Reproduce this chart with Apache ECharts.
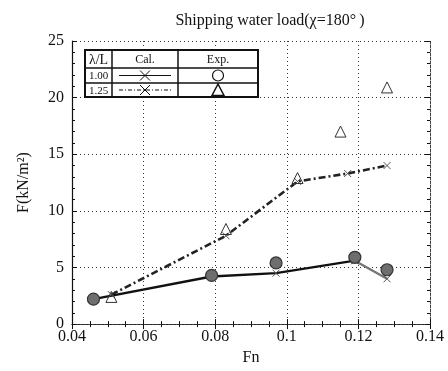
<!DOCTYPE html>
<html>
<head>
<meta charset="utf-8">
<script src="https://cdn.jsdelivr.net/npm/echarts@6/dist/echarts.min.js"></script>
<style>
html, body { margin: 0; padding: 0; background: #fff; }
#chart { width: 448px; height: 371px; }
</style>
</head>
<body>
<div id="chart"></div>
<script>
// 计算值 λ/L = 1.00
const cal100Fn = [0.046, 0.079, 0.097, 0.119, 0.128];
const cal100F = [2.2, 4.2, 4.5, 5.6, 4.0];
// 计算值 λ/L = 1.25
const cal125Fn = [0.051, 0.083, 0.103, 0.117, 0.128];
const cal125F = [2.6, 7.8, 12.6, 13.3, 14.0];
// 实验值
const exp100Fn = [0.046, 0.079, 0.097, 0.119, 0.128];
const exp100F = [2.2, 4.3, 5.4, 5.9, 4.8];
const exp125Fn = [0.051, 0.083, 0.103, 0.115, 0.128];
const exp125F = [2.4, 8.4, 12.9, 17.0, 20.9];

const xTicks = [0.04, 0.06, 0.08, 0.1, 0.12, 0.14];
const yTicks = [0, 5, 10, 15, 20, 25];
const legendRows = ['1.00', '1.25'];

const font = '"Liberation Serif", "DejaVu Serif", serif';
const crossPath = 'path://M0,0L10,10M10,0L0,10';

const zip = (xs, ys) => xs.map((x, i) => [x, ys[i]]);

const chart = echarts.init(document.getElementById('chart'));

// 图例表格
let tb = {left: 85, top: 50, right: 258, bottom: 97};
let cols = [85, 112, 178, 258], rows = [50, 68, 83, 97];
let graphic = [];
graphic.push({type: 'rect', shape: {x: tb.left, y: tb.top, width: tb.right - tb.left, height: tb.bottom - tb.top},
	style: {fill: '#fff', stroke: '#111', lineWidth: 2}, z: 100});
[1, 2].forEach(i => {
	graphic.push({type: 'line', shape: {x1: cols[i], y1: tb.top, x2: cols[i], y2: tb.bottom}, style: {stroke: '#111', lineWidth: 1.5}, z: 101});
	graphic.push({type: 'line', shape: {x1: tb.left, y1: rows[i], x2: tb.right, y2: rows[i]}, style: {stroke: '#111', lineWidth: 1.5}, z: 101});
});
const cellText = (t, c, r, size) => ({
	type: 'text', z: 102,
	style: {text: t, x: (cols[c] + cols[c + 1]) / 2, y: (rows[r] + rows[r + 1]) / 2 + 1, align: 'center', verticalAlign: 'middle',
		font: `${size}px ${font}`, fill: '#111'}
});
graphic.push(cellText('λ/L', 0, 0, 14));
graphic.push(cellText('Cal.', 1, 0, 12));
graphic.push(cellText('Exp.', 2, 0, 12));
legendRows.forEach((t, i) => graphic.push(cellText(t, 0, i + 1, 11)));
// 线型示意
let lx1 = cols[1] + 7, lx2 = cols[2] - 7;
[0, 1].forEach(i => {
	let yy = (rows[i + 1] + rows[i + 2]) / 2;
	graphic.push({type: 'line', z: 102, shape: {x1: lx1, y1: yy, x2: lx2, y2: yy},
		style: {stroke: '#111', lineWidth: 1, lineDash: i === 0 ? null : [4, 2, 1, 2]}});
	let cx = (lx1 + lx2) / 2;
	graphic.push({type: 'polyline', z: 102, shape: {points: [[cx - 5, yy - 5], [cx + 5, yy + 5]]}, style: {stroke: '#111', lineWidth: 1, fill: null}});
	graphic.push({type: 'polyline', z: 102, shape: {points: [[cx + 5, yy - 5], [cx - 5, yy + 5]]}, style: {stroke: '#111', lineWidth: 1, fill: null}});
});
let ex = (cols[2] + cols[3]) / 2;
graphic.push({type: 'circle', z: 102, shape: {cx: ex, cy: (rows[1] + rows[2]) / 2, r: 5.5}, style: {fill: '#fff', stroke: '#111', lineWidth: 1.2}});
let ty = (rows[2] + rows[3]) / 2;
graphic.push({type: 'polygon', z: 102, shape: {points: [[ex, ty - 6], [ex - 6, ty + 5.5], [ex + 6, ty + 5.5]]}, style: {fill: '#fff', stroke: '#111', lineWidth: 1.5}});

const axisCommon = {
	axisLine: {show: true, lineStyle: {color: '#111', width: 1.2}},
	axisTick: {show: true, inside: true, length: 5, lineStyle: {color: '#111'}},
	splitLine: {show: true, lineStyle: {color: '#333', type: [1, 3], width: 1}}
};

const option = {
	animation: false,
	backgroundColor: '#fff',
	title: {
		text: 'Shipping water load(χ=180°\u2009)',
		left: 265, top: 8, textAlign: 'center',
		textStyle: {fontFamily: font, fontSize: 16, fontWeight: 'normal', color: '#111'}
	},
	grid: {left: 72, right: 18, top: 41, bottom: 39},
	graphic: graphic,
	xAxis: [{
		type: 'value', min: 0.04, max: 0.14, interval: 0.02,
		name: 'Fn', nameLocation: 'middle', nameGap: 21,
		nameTextStyle: {fontFamily: font, fontSize: 16, color: '#111'},
		axisLabel: {fontFamily: font, fontSize: 16, color: '#111', margin: 5, formatter: v => String(+v.toFixed(2))},
		...axisCommon,
		minorTick: {show: true, splitNumber: 4, length: 3, lineStyle: {color: '#111'}}
	}, {
		type: 'value', min: 0.04, max: 0.14, interval: 0.02, position: 'top',
		axisLabel: {show: false}, splitLine: {show: false},
		axisLine: {show: true, lineStyle: {color: '#444', type: [2, 2]}},
		axisTick: {show: true, inside: true, length: 5, lineStyle: {color: '#111'}},
		minorTick: {show: true, splitNumber: 4, length: 3, lineStyle: {color: '#111'}}
	}],
	yAxis: [{
		type: 'value', min: 0, max: 25, interval: 5,
		name: 'F(kN/m²)', nameLocation: 'middle', nameGap: 40, nameRotate: 90,
		nameTextStyle: {fontFamily: font, fontSize: 16, color: '#111'},
		axisLabel: {fontFamily: font, fontSize: 16, color: '#111', margin: 8},
		...axisCommon,
		minorTick: {show: true, splitNumber: 5, length: 3, lineStyle: {color: '#111'}}
	}, {
		type: 'value', min: 0, max: 25, interval: 5, position: 'right',
		axisLabel: {show: false}, splitLine: {show: false},
		axisLine: {show: true, lineStyle: {color: '#444', type: [2, 2]}},
		axisTick: {show: true, inside: true, length: 5, lineStyle: {color: '#111'}},
		minorTick: {show: true, splitNumber: 5, length: 3, lineStyle: {color: '#111'}}
	}],
	series: [{
		name: 'Cal 1.25', type: 'line', data: zip(cal125Fn, cal125F),
		lineStyle: {color: '#222', width: 2.6, type: [7, 3, 2, 3]},
		symbol: crossPath, symbolSize: 7,
		itemStyle: {color: 'none', borderColor: '#555', borderWidth: 1}, z: 3
	}, {
		name: 'Cal 1.00', type: 'line', data: zip(cal100Fn.slice(0, 4), cal100F.slice(0, 4)),
		lineStyle: {color: '#111', width: 2.4},
		symbol: crossPath, symbolSize: 7,
		itemStyle: {color: 'none', borderColor: '#555', borderWidth: 1}, z: 3
	}, {
		name: 'Cal 1.00 end', type: 'line', data: zip(cal100Fn.slice(3), cal100F.slice(3)),
		lineStyle: {color: '#777', width: 2.4},
		symbol: crossPath, symbolSize: 7,
		itemStyle: {color: 'none', borderColor: '#555', borderWidth: 1}, z: 3
	}, {
		name: 'Exp 1.00', type: 'scatter', data: zip(exp100Fn, exp100F),
		symbol: 'circle', symbolSize: 12,
		itemStyle: {color: '#6e6e6e', borderColor: '#333', borderWidth: 1.2, opacity: 1}, z: 4
	}, {
		name: 'Exp 1.25', type: 'scatter', data: zip(exp125Fn, exp125F),
		symbol: 'triangle', symbolSize: 11,
		itemStyle: {color: 'rgba(255,255,255,0)', borderColor: '#333', borderWidth: 1, opacity: 1}, z: 4
	}]
};
chart.setOption(option);
</script>
</body>
</html>
